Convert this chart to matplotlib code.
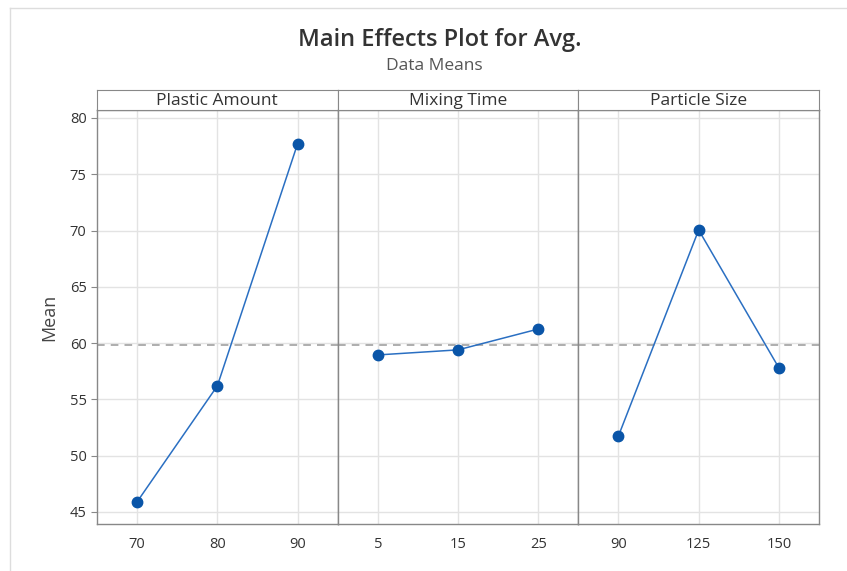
import matplotlib.pyplot as plt
from matplotlib.lines import Line2D

plt.rcParams['font.family'] = ['Open Sans', 'DejaVu Sans']

factors = ['Plastic Amount', 'Mixing Time', 'Particle Size']
levels = [['70', '80', '90'], ['5', '15', '25'], ['90', '125', '150']]
means = [[45.9, 56.2, 77.7], [58.95, 59.4, 61.25], [51.75, 70.05, 57.8]]
grand_mean = 59.85

W, H = 847, 571
fig = plt.figure(figsize=(W / 100, H / 100), dpi=100)

# light outer frame
fig.add_artist(Line2D([10 / W, 1], [1 - 8 / H, 1 - 8 / H], color='#dddddd', lw=1))
fig.add_artist(Line2D([10 / W, 10 / W], [0, 1 - 8 / H], color='#dddddd', lw=1))

fig.text(440 / W, 1 - 40 / H, 'Main Effects Plot for Avg.', ha='center', va='center',
         fontsize=17, color='#333333', fontweight='semibold')
fig.text(434 / W, 1 - 66 / H, 'Data Means', ha='center', va='center',
         fontsize=12.5, color='#555555')

x0, x1 = 97, 819
top, bot = 110, 524
pw = (x1 - x0) / 3
ylo, yhi = 43.93, 80.71

for i, (name, labs, vals) in enumerate(zip(factors, levels, means)):
    left = x0 + i * pw
    ax = fig.add_axes([left / W, 1 - bot / H, pw / W, (bot - top) / H])
    xs = list(range(len(labs)))
    ax.plot(xs, vals, color='#2a6fc2', lw=1.1, zorder=3)
    ax.plot(xs, vals, 'o', color='#0a55a8', ms=7.5, zorder=4)
    ax.axhline(grand_mean, color='#999999', lw=1.1, ls=(0, (5, 4)), zorder=2)
    ax.set_xlim(-0.5, 2.5)
    ax.set_ylim(ylo, yhi)
    ax.set_xticks(xs)
    ax.set_xticklabels(labs)
    ax.set_yticks(range(45, 81, 5))
    ax.grid(True, color='#e3e3e3', lw=1)
    ax.set_axisbelow(True)
    for s in ax.spines.values():
        s.set_color('#888888')
        s.set_linewidth(1)
    ax.tick_params(axis='x', length=0, pad=9, labelsize=10.5, labelcolor='#333333')
    ax.tick_params(axis='y', length=4, color='#888888', labelsize=10.5, labelcolor='#333333')
    if i == 0:
        ax.set_ylabel('Mean', fontsize=13, color='#444444', labelpad=8)
    else:
        ax.tick_params(axis='y', left=False, labelleft=False)

    # header strip
    hx = fig.add_axes([left / W, 1 - top / H, pw / W, 20 / H])
    hx.set_xticks([])
    hx.set_yticks([])
    for s in hx.spines.values():
        s.set_color('#888888')
    hx.text(0.5, 0.45, name, ha='center', va='center', fontsize=12.5, color='#333333',
            transform=hx.transAxes)

fig.savefig('out.png', dpi=100)
